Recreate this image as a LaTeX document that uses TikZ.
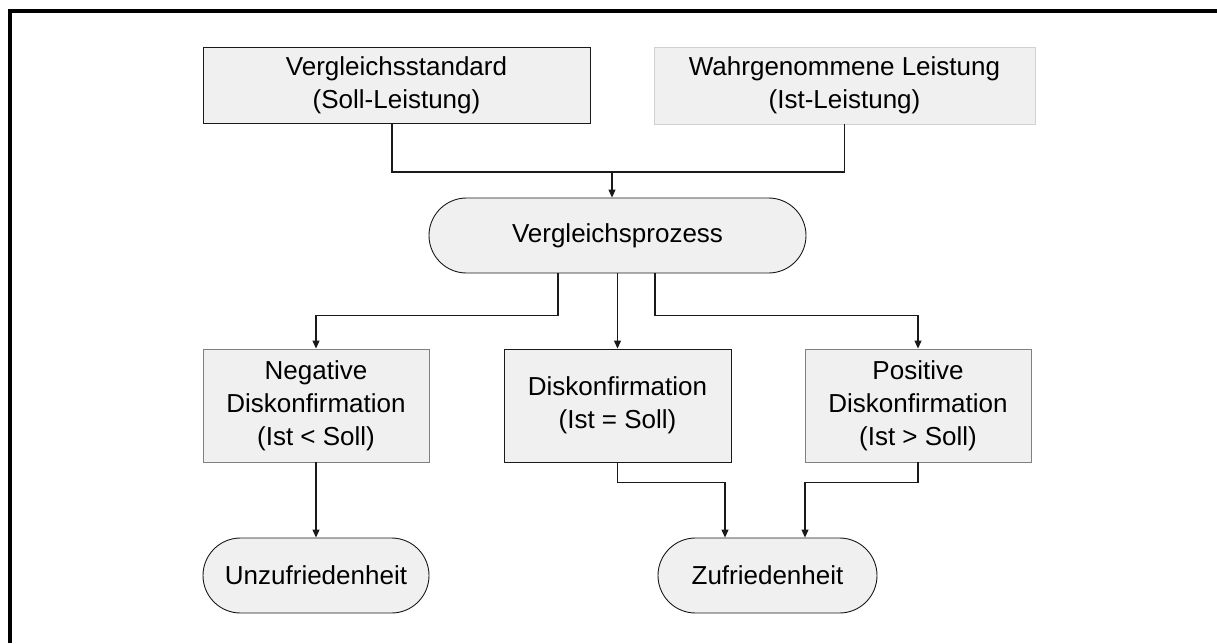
\documentclass[tikz,border=0pt]{standalone}
\usepackage{fontspec}
\setmainfont{Liberation Sans}
\usetikzlibrary{arrows.meta}
\definecolor{boxfill}{HTML}{F0F0F0}
\definecolor{lineclr}{HTML}{1A1A1A}
\begin{document}
\begin{tikzpicture}[x=1pt,y=-1pt,
  every node/.style={font=\fontsize{26}{33}\selectfont, align=center, inner sep=0pt},
  box/.style={rectangle, fill=boxfill, draw=lineclr, line width=0.9pt},
  softbox/.style={rectangle, fill=boxfill, draw=black!35, line width=0.9pt},
  pill/.style={rectangle, rounded corners=37.5pt, fill=boxfill, draw=lineclr, line width=0.9pt,
               minimum height=75pt},
  conn/.style={draw=lineclr, line width=1.1pt},
  arr/.style={conn, -{Triangle[length=8pt,width=7pt]}}
]
\useasboundingbox (0,0) rectangle (1217,643);
% frame
\draw[line width=4pt, line join=miter] (10,643) -- (10,11) -- (1217,11);

% nodes
\node[box, minimum width=387pt, minimum height=76pt] (std) at (396.5,85.5)
  {Vergleichsstandard\\(Soll-Leistung)};
\node[softbox, draw=black!18, minimum width=381pt, minimum height=77pt] (ist) at (844.5,85.5)
  {Wahrgenommene Leistung\\(Ist-Leistung)};
\node[pill, minimum width=377pt] (proc) at (617.5,235.5) {Vergleichsprozess};
\node[softbox, draw=black!50, minimum width=226pt, minimum height=113pt] (neg) at (316,405.5)
  {Negative\\Diskonfirmation\\(Ist < Soll)};
\node[box, minimum width=227pt, minimum height=113pt] (eq) at (617.5,405.5)
  {Diskonfirmation\\(Ist = Soll)};
\node[softbox, draw=black!50, minimum width=226pt, minimum height=113pt] (pos) at (918,405.5)
  {Positive\\Diskonfirmation\\(Ist > Soll)};
\node[pill, minimum width=226pt] (unz) at (316,575.5) {Unzufriedenheit};
\node[pill, minimum width=219pt] (zuf) at (767.5,575.5) {Zufriedenheit};

% inputs into the comparison
\coordinate (j1) at (612,172);
\draw[conn] ([xshift=-4.5pt]std.south) |- (j1) -| (ist.south);
\draw[arr] (j1) -- (j1 |- proc.north);

% comparison outcomes
\draw[arr] ([xshift=-59.5pt]proc.south) -- ++(0,42) -| (neg.north);
\draw[arr] (proc.south) -- (eq.north);
\draw[arr] ([xshift=37.5pt]proc.south) -- ++(0,42) -| (pos.north);

% results
\draw[arr] (neg.south) -- (unz.north);
\draw[arr] (eq.south) -- ++(0,20) -| ([xshift=-42.5pt]zuf.north);
\draw[arr] (pos.south) -- ++(0,20) -| ([xshift=37.5pt]zuf.north);
\end{tikzpicture}
\end{document}
